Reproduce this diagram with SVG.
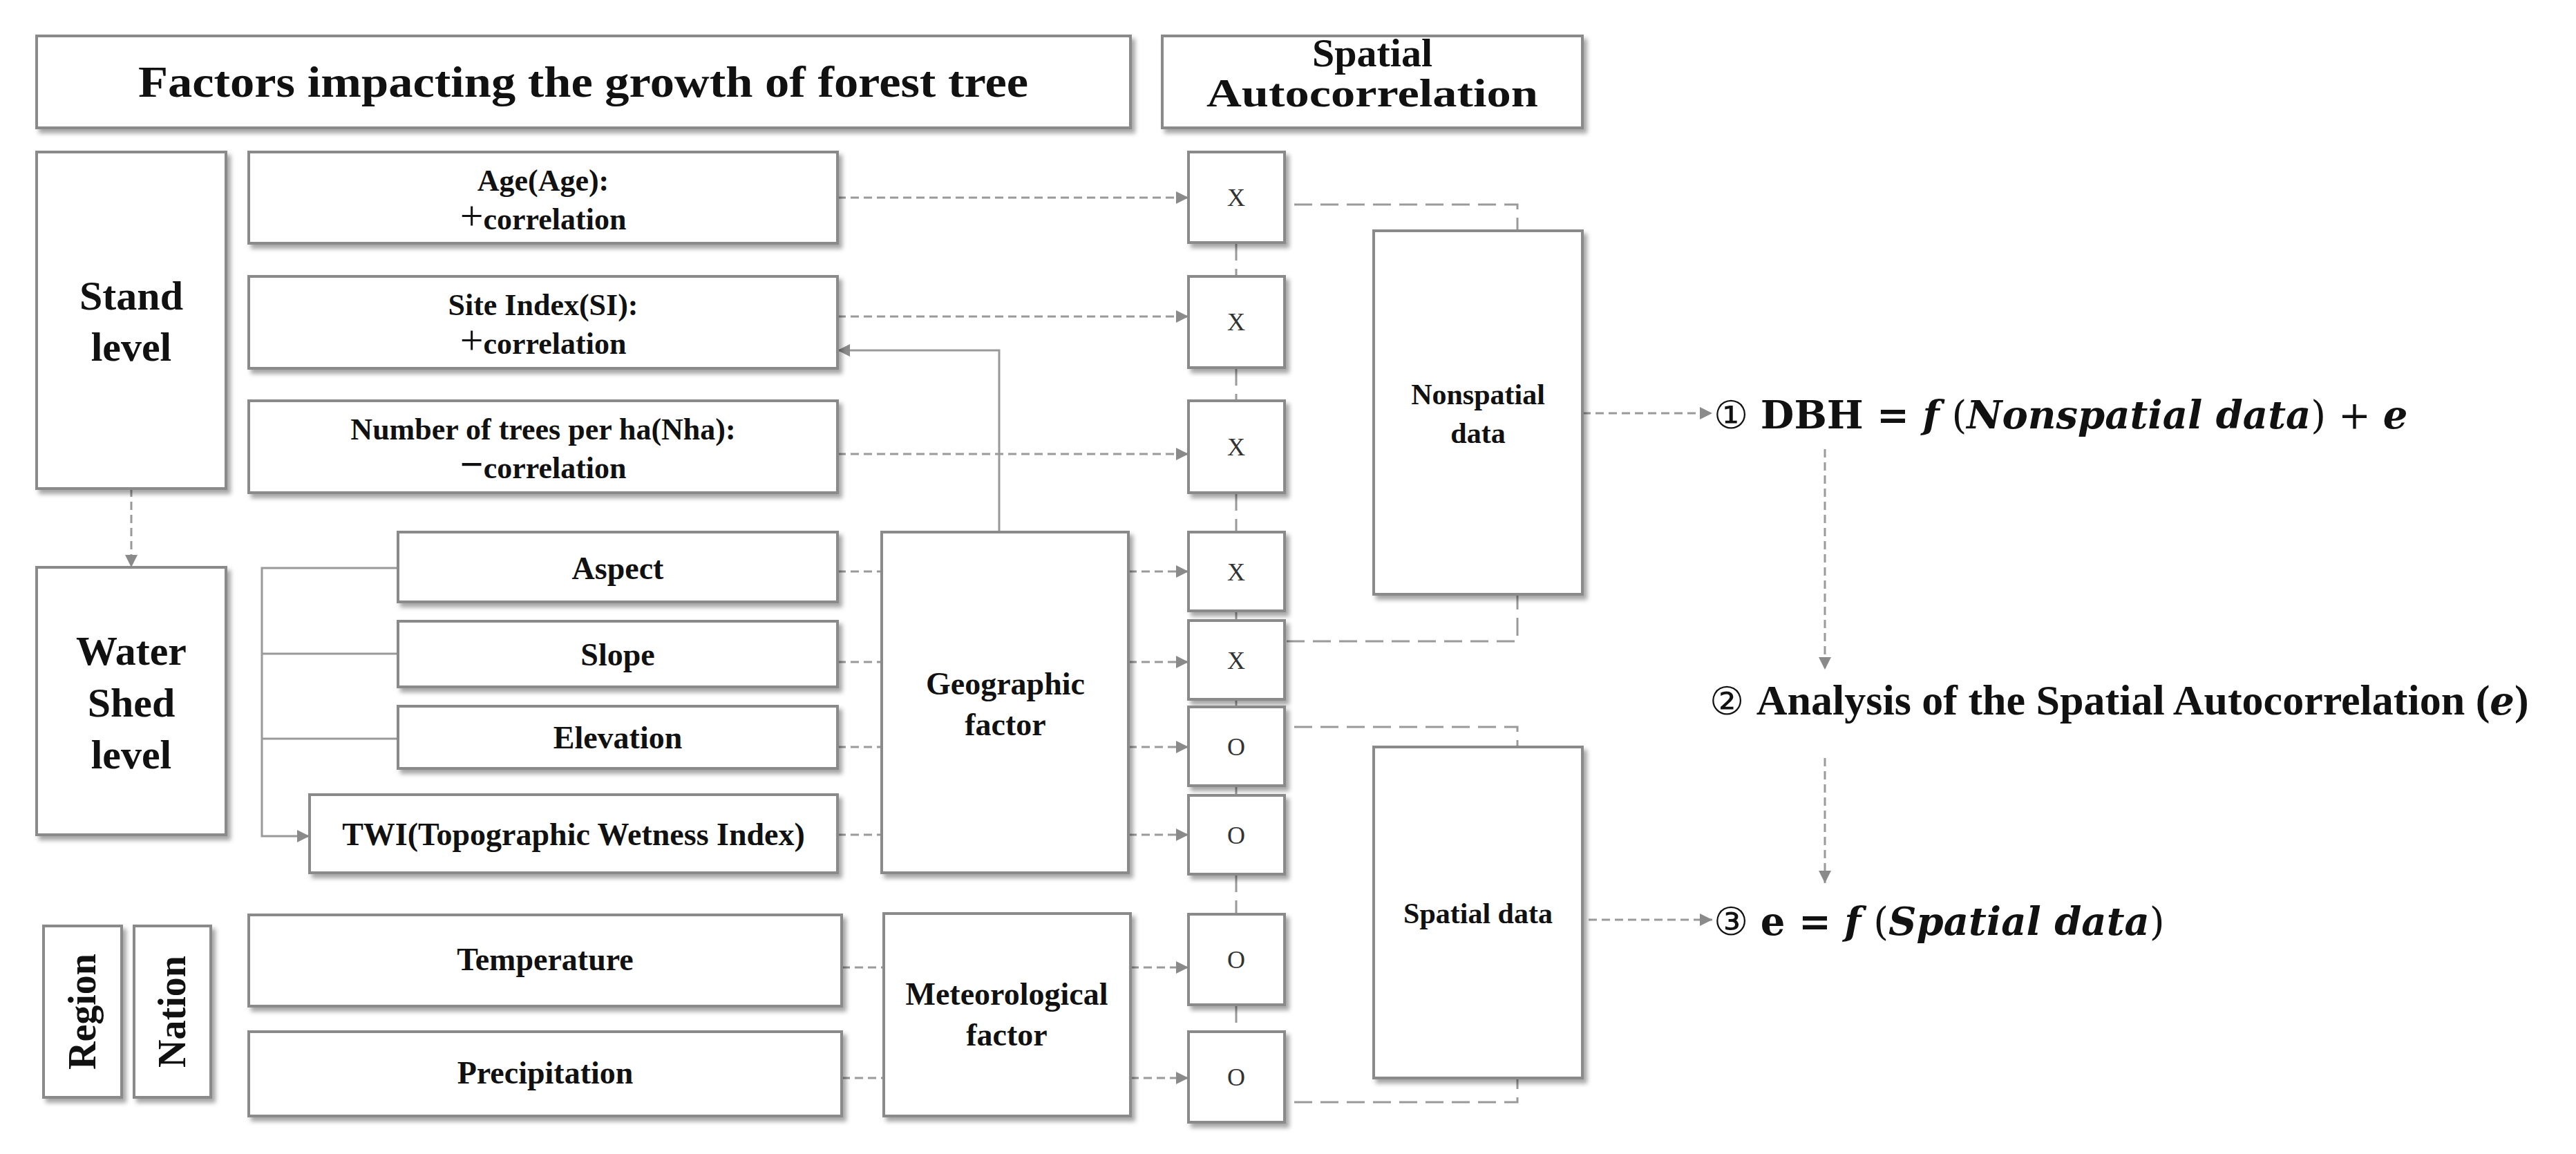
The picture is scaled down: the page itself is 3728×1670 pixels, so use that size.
<svg xmlns="http://www.w3.org/2000/svg" width="3728" height="1670" viewBox="0 0 3728 1670">
<style>
.b{fill:#fff;stroke:#8a8a8a;stroke-width:4;filter:url(#sh)}
.t{font-family:"Liberation Serif",serif;font-weight:bold;fill:#111;text-anchor:middle}
.m{font-family:"Liberation Serif",serif;fill:#333;text-anchor:middle;font-size:36px}
.d{fill:none;stroke:#9a9a9a;stroke-width:3;stroke-dasharray:12 7}
.ld{fill:none;stroke:#9a9a9a;stroke-width:3;stroke-dasharray:26 12}
.s{fill:none;stroke:#9a9a9a;stroke-width:3}
.eq{font-family:"DejaVu Serif","Liberation Serif",serif;font-size:56px;fill:#111}
</style>
<defs>
<filter id="sh" x="-10%" y="-10%" width="130%" height="130%"><feDropShadow dx="5" dy="6" stdDeviation="3" flood-color="#000" flood-opacity="0.35"/></filter>
<marker id="a" viewBox="0 0 10 10" refX="10" refY="5" markerWidth="6" markerHeight="6" orient="auto"><path d="M0,0L10,5L0,10z" fill="#8a8a8a"/></marker>
</defs>
<rect width="3728" height="1670" fill="#fff"/>
<g id="connectors">
<path class="d" d="M1212,286H1720" marker-end="url(#a)"/>
<path class="d" d="M1212,458H1720" marker-end="url(#a)"/>
<path class="d" d="M1212,657H1720" marker-end="url(#a)"/>
<path class="s" d="M1446,770V507H1212" marker-end="url(#a)"/>
<path class="d" d="M1212,827H1276M1633,827H1720" marker-end="url(#a)"/>
<path class="d" d="M1212,958H1276M1633,958H1720" marker-end="url(#a)"/>
<path class="d" d="M1212,1081H1276M1633,1081H1720" marker-end="url(#a)"/>
<path class="d" d="M1212,1208H1276M1633,1208H1720" marker-end="url(#a)"/>
<path class="d" d="M1218,1400H1279M1636,1400H1720" marker-end="url(#a)"/>
<path class="d" d="M1218,1560H1279M1636,1560H1720" marker-end="url(#a)"/>
<path class="s" d="M576,822H379V1210H448" marker-end="url(#a)"/>
<path class="s" d="M379,946H576M379,1069H576"/>
<path class="d" d="M190,707V821" marker-end="url(#a)"/>
<path class="ld" d="M1789,351V400M1789,532V580M1789,713V770M1789,884V898M1789,1012V1023M1789,1137V1151M1789,1265V1323M1789,1454V1493"/>
<path class="ld" d="M1873,296H2196V334M1862,928H2196V860M1873,1052H2196V1081M1873,1595H2196V1560"/>
<path class="d" d="M2290,598H2478" marker-end="url(#a)"/>
<path class="d" d="M2299,1331H2478" marker-end="url(#a)"/>
<path class="d" d="M2641,650V969" marker-end="url(#a)"/>
<path class="d" d="M2641,1097V1278" marker-end="url(#a)"/>
</g>
<g id="title"><rect class="b" x="53" y="52" width="1583" height="133"/><text class="t" x="844" y="140" font-size="64" textLength="1288" lengthAdjust="spacingAndGlyphs">Factors impacting the growth of forest tree</text></g>
<g id="spatial-title"><rect class="b" x="1682" y="52" width="608" height="133"/><text class="t" x="1986" y="96" font-size="58">Spatial</text><text class="t" x="1986" y="154" font-size="58" textLength="480" lengthAdjust="spacingAndGlyphs">Autocorrelation</text></g>
<g id="stand"><rect class="b" x="53" y="220" width="274" height="487"/><text class="t" x="190" y="448" font-size="60">Stand</text><text class="t" x="190" y="522" font-size="60">level</text></g>
<g id="watershed"><rect class="b" x="53" y="821" width="274" height="387"/><text class="t" x="190" y="962" font-size="60">Water</text><text class="t" x="190" y="1037" font-size="60">Shed</text><text class="t" x="190" y="1112" font-size="60">level</text></g>
<g id="region"><rect class="b" x="63" y="1340" width="113" height="248"/><text class="t" font-size="56" transform="translate(138,1464) rotate(-90)">Region</text></g>
<g id="nation"><rect class="b" x="194" y="1340" width="111" height="248"/><text class="t" font-size="56" transform="translate(268,1464) rotate(-90)">Nation</text></g>
<g id="age"><rect class="b" x="360" y="220" width="852" height="132"/><text class="t" x="786" y="276" font-size="44">Age(Age):</text><text class="t" x="786" y="332" font-size="44"><tspan font-size="60" font-weight="normal">+</tspan>correlation</text></g>
<g id="si"><rect class="b" x="360" y="400" width="852" height="133"/><text class="t" x="786" y="456" font-size="44">Site Index(SI):</text><text class="t" x="786" y="512" font-size="44"><tspan font-size="60" font-weight="normal">+</tspan>correlation</text></g>
<g id="nha"><rect class="b" x="360" y="580" width="852" height="133"/><text class="t" x="786" y="636" font-size="44">Number of trees per ha(Nha):</text><text class="t" x="786" y="692" font-size="44"><tspan font-size="60">−</tspan>correlation</text></g>
<g id="aspect"><rect class="b" x="576" y="770" width="636" height="101"/><text class="t" x="894" y="838" font-size="46">Aspect</text></g>
<g id="slope"><rect class="b" x="576" y="899" width="636" height="95"/><text class="t" x="894" y="963" font-size="46">Slope</text></g>
<g id="elevation"><rect class="b" x="576" y="1022" width="636" height="90"/><text class="t" x="894" y="1083" font-size="46">Elevation</text></g>
<g id="twi"><rect class="b" x="448" y="1150" width="764" height="113"/><text class="t" x="830" y="1223" font-size="46">TWI(Topographic Wetness Index)</text></g>
<g id="geographic"><rect class="b" x="1276" y="770" width="357" height="493"/><text class="t" x="1455" y="1005" font-size="46">Geographic</text><text class="t" x="1455" y="1064" font-size="46">factor</text></g>
<g id="temperature"><rect class="b" x="360" y="1324" width="858" height="132"/><text class="t" x="789" y="1404" font-size="46">Temperature</text></g>
<g id="precipitation"><rect class="b" x="360" y="1493" width="858" height="122"/><text class="t" x="789" y="1568" font-size="46">Precipitation</text></g>
<g id="meteorological"><rect class="b" x="1279" y="1322" width="357" height="293"/><text class="t" x="1457" y="1454" font-size="46">Meteorological</text><text class="t" x="1457" y="1513" font-size="46">factor</text></g>
<g id="m1"><rect class="b" x="1720" y="220" width="139" height="131"/><text class="m" x="1789" y="298">X</text></g>
<g id="m2"><rect class="b" x="1720" y="400" width="139" height="132"/><text class="m" x="1789" y="478">X</text></g>
<g id="m3"><rect class="b" x="1720" y="580" width="139" height="133"/><text class="m" x="1789" y="659">X</text></g>
<g id="m4"><rect class="b" x="1720" y="770" width="139" height="114"/><text class="m" x="1789" y="840">X</text></g>
<g id="m5"><rect class="b" x="1720" y="898" width="139" height="114"/><text class="m" x="1789" y="968">X</text></g>
<g id="m6"><rect class="b" x="1720" y="1023" width="139" height="114"/><text class="m" x="1789" y="1093">O</text></g>
<g id="m7"><rect class="b" x="1720" y="1151" width="139" height="114"/><text class="m" x="1789" y="1221">O</text></g>
<g id="m8"><rect class="b" x="1720" y="1323" width="139" height="131"/><text class="m" x="1789" y="1401">O</text></g>
<g id="m9"><rect class="b" x="1720" y="1493" width="139" height="131"/><text class="m" x="1789" y="1571">O</text></g>
<g id="nonspatial"><rect class="b" x="1988" y="334" width="302" height="526"/><text class="t" x="2139" y="585" font-size="42">Nonspatial</text><text class="t" x="2139" y="641" font-size="42">data</text></g>
<g id="spatialdata"><rect class="b" x="1988" y="1081" width="302" height="479"/><text class="t" x="2139" y="1336" font-size="42">Spatial data</text></g>
<g id="eq1"><text class="eq" x="2480" y="620">① <tspan font-weight="bold">DBH = </tspan><tspan font-weight="bold" font-style="italic">f</tspan> (<tspan font-weight="bold" font-style="italic">Nonspatial data</tspan>) + <tspan font-weight="bold" font-style="italic">e</tspan></text></g>
<g id="eq2"><text class="eq" x="2474" y="1034"><tspan>② </tspan><tspan font-family="Liberation Serif,serif" font-weight="bold" font-size="62">Analysis of the Spatial Autocorrelation (</tspan><tspan font-weight="bold" font-style="italic">e</tspan><tspan font-family="Liberation Serif,serif" font-weight="bold" font-size="62">)</tspan></text></g>
<g id="eq3"><text class="eq" x="2480" y="1353">③ <tspan font-weight="bold">e = </tspan><tspan font-weight="bold" font-style="italic">f</tspan> (<tspan font-weight="bold" font-style="italic">Spatial data</tspan>)</text></g>
</svg>
